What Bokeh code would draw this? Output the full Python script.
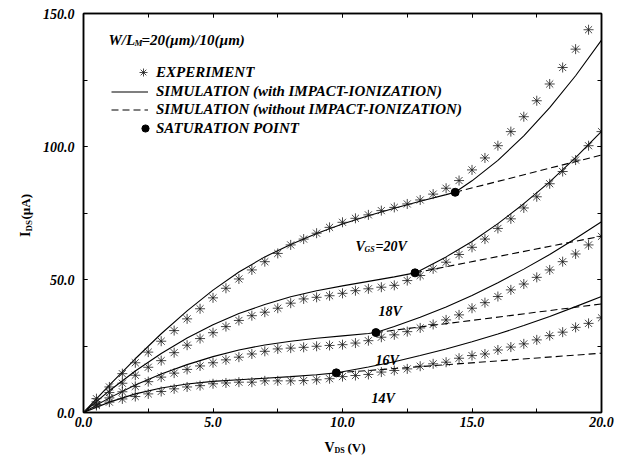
import math
from bokeh.plotting import figure
from bokeh.layouts import column, row
from bokeh.models import (Range1d, LinearAxis, SingleIntervalTicker, NumeralTickFormatter,
                          CustomJSTickFormatter, Label, Legend, LegendItem)
from bokeh.core.properties import value
from bokeh.embed import file_html
from bokeh.resources import INLINE

# ---------------- data ----------------
vds_exp = [0.0, 0.5, 1.0, 1.5, 2.0, 2.5, 3.0, 3.5, 4.0, 4.5,
           5.0, 5.5, 6.0, 6.5, 7.0, 7.5, 8.0, 8.5, 9.0, 9.5,
           10.0, 10.5, 11.0, 11.5, 12.0, 12.5, 13.0, 13.5, 14.0, 14.5,
           15.0, 15.5, 16.0, 16.5, 17.0, 17.5, 18.0, 18.5, 19.0, 19.5, 20.0]

# measured I_DS (uA); VGS=20V has no point at 20 V (off scale)
ids_exp_20 = [0.0, 5.2, 9.6, 14.6, 18.7, 22.7, 26.8, 30.8, 35.2, 39.0,
              43.1, 46.7, 50.2, 53.6, 56.7, 59.8, 63.0, 65.2, 67.4, 69.6,
              71.5, 73.0, 74.3, 75.9, 77.1, 78.4, 79.9, 82.1, 84.3, 87.2,
              91.2, 95.7, 100.3, 105.6, 111.2, 117.2, 123.5, 129.7, 136.6, 143.9]
ids_exp_18 = [0.0, 4.0, 7.5, 11.0, 14.0, 17.0, 19.5, 22.5, 25.3, 27.8,
              30.0, 32.3, 34.6, 36.4, 37.7, 39.2, 41.1, 42.7, 43.3, 43.9,
              44.8, 45.8, 46.5, 47.1, 47.8, 49.6, 51.5, 54.0, 56.5, 59.4,
              62.1, 65.2, 69.2, 72.8, 76.9, 81.1, 86.0, 90.6, 94.9, 100.3, 105.6]
ids_exp_16 = [0.0, 3.0, 5.5, 7.8, 9.8, 11.6, 13.3, 14.8, 16.2, 17.5,
              18.7, 19.8, 20.8, 22.0, 23.0, 23.9, 24.2, 24.5, 24.9, 25.2,
              25.5, 26.1, 27.0, 28.3, 29.2, 30.4, 31.8, 33.1, 34.8, 36.7,
              39.2, 41.3, 43.6, 46.1, 48.3, 50.8, 53.6, 56.7, 59.6, 63.0, 66.2]
ids_exp_14 = [0.0, 2.6, 3.9, 5.1, 6.0, 7.0, 7.9, 8.9, 9.6, 10.1,
              10.8, 11.1, 11.4, 11.4, 11.9, 11.9, 11.9, 12.0, 12.3, 12.7,
              13.5, 13.9, 14.3, 15.2, 15.8, 16.4, 17.4, 18.3, 18.9, 20.4,
              21.4, 22.0, 23.5, 24.6, 25.8, 27.3, 28.9, 30.2, 32.0, 33.5, 35.6]

# simulation with impact ionization (solid)
vds_sim_20 = [0, 1, 2, 3, 4, 5, 6, 7, 8, 9, 10, 11, 12, 13, 14, 14.35, 15, 16, 17, 18, 19, 20]
ids_sim_20 = [0, 10.3, 20.2, 29.6, 38.2, 46.0, 52.8, 58.5, 63.2, 67.3, 70.9, 74.0, 76.8, 79.4,
              81.9, 82.8, 87.1, 94.8, 104.0, 114.6, 126.6, 140.0]
vds_sim_18 = [0, 1, 2, 3, 4, 5, 6, 7, 8, 9, 10, 11, 12, 12.8, 13, 14, 15, 16, 17, 18, 19, 20]
ids_sim_18 = [0, 8.2, 15.6, 22.2, 28.0, 33.0, 37.2, 40.6, 43.5, 45.8, 47.6, 49.3, 51.0,
              52.5, 53.4, 58.5, 64.3, 71.0, 78.5, 86.7, 95.8, 105.7]
vds_sim_16 = [0, 1, 2, 3, 4, 5, 6, 7, 8, 9, 10, 11, 11.29, 12, 13, 14, 15, 16, 17, 18, 19, 20]
ids_sim_16 = [0, 5.5, 10.3, 14.5, 18.0, 21.0, 23.5, 25.4, 26.8, 27.9, 28.8, 29.7,
              30.05, 32.3, 35.8, 39.7, 44.0, 48.8, 53.9, 59.4, 65.4, 71.7]
vds_sim_14 = [0, 1, 2, 3, 4, 5, 6, 7, 8, 9, 9.76, 10, 11, 12, 13, 14, 15, 16, 17, 18, 19, 20]
ids_sim_14 = [0, 3.9, 7.0, 9.2, 10.7, 11.7, 12.3, 12.9, 13.5, 14.2,
              14.9, 15.3, 17.1, 19.1, 21.4, 23.9, 26.6, 29.5, 32.7, 36.1, 39.8, 43.6]

# simulation without impact ionization (dashed), from saturation point to 20 V
vds_noii_20 = [14.35, 20.0]
ids_noii_20 = [82.8, 96.8]
vds_noii_18 = [12.8, 20.0]
ids_noii_18 = [52.5, 66.3]
vds_noii_16 = [11.29, 20.0]
ids_noii_16 = [30.05, 40.8]
vds_noii_14 = [9.76, 20.0]
ids_noii_14 = [14.9, 22.3]

# saturation points
sat_vds = [14.35, 12.8, 11.29, 9.76]
sat_ids = [82.8, 52.5, 30.05, 14.9]

x_ticks_interval = 5
y_ticks_interval = 50

# ---------------- layout geometry (pixels) ----------------
FONT = "Liberation Serif"
YT_W = 38            # width of strip holding the y-axis title
XT_H = 23            # height of strip holding the x-axis title
W, H = 621, 455
MW, MH = W - YT_W, H - XT_H     # main figure size
ML, MR, MT, MB = 83 - YT_W, 20, 13, MH - 412
FX0 = YT_W + ML                 # frame left in page pixels (83)
FY1 = MH - MB                   # frame bottom in page pixels (412)
PX_PER_X = (MW - ML - MR) / 20.0
PX_PER_Y = (MH - MT - MB) / 150.0

p = figure(width=MW, height=MH, x_range=Range1d(0, 20), y_range=Range1d(0, 150),
           output_backend="svg", toolbar_location=None,
           min_border_left=ML, min_border_right=MR, min_border_top=MT, min_border_bottom=MB,
           background_fill_color="white", border_fill_color="white")
p.xgrid.visible = False
p.ygrid.visible = False
p.outline_line_color = "black"
p.outline_line_width = 1.5

def style_axis(ax, labels=True):
    ax.axis_line_color = "black"
    ax.axis_line_width = 1.5
    ax.major_tick_in = 4
    ax.major_tick_out = 0
    ax.minor_tick_in = 4
    ax.minor_tick_out = 0
    ax.major_tick_line_color = "black"
    ax.minor_tick_line_color = "black"
    ax.major_label_text_font = FONT
    ax.major_label_text_font_style = "bold italic"
    ax.major_label_text_font_size = "14px"
    ax.major_label_text_color = "black"
    if not labels:
        ax.formatter = CustomJSTickFormatter(code="return ''")

p.xaxis[0].ticker = SingleIntervalTicker(interval=x_ticks_interval, num_minor_ticks=2)
p.yaxis[0].ticker = SingleIntervalTicker(interval=y_ticks_interval, num_minor_ticks=2)
p.xaxis[0].formatter = NumeralTickFormatter(format="0.0")
p.yaxis[0].formatter = NumeralTickFormatter(format="0.0")
style_axis(p.xaxis[0])
style_axis(p.yaxis[0])
p.xaxis[0].major_label_standoff = 4
p.yaxis[0].major_label_standoff = 9

ax_top = LinearAxis(ticker=SingleIntervalTicker(interval=x_ticks_interval, num_minor_ticks=2))
ax_right = LinearAxis(ticker=SingleIntervalTicker(interval=y_ticks_interval, num_minor_ticks=2))
style_axis(ax_top, labels=False)
style_axis(ax_right, labels=False)
ax_top.major_label_standoff = 0
ax_right.major_label_standoff = 0
p.add_layout(ax_top, "above")
p.add_layout(ax_right, "right")

DASH = "7 4"
solid_r = None
dash_r = None
for vs, is_ in [(vds_sim_20, ids_sim_20), (vds_sim_18, ids_sim_18),
                (vds_sim_16, ids_sim_16), (vds_sim_14, ids_sim_14)]:
    r = p.line(vs, is_, line_color="black", line_width=1.1)
    solid_r = solid_r or r
for vs, is_ in [(vds_noii_20, ids_noii_20), (vds_noii_18, ids_noii_18),
                (vds_noii_16, ids_noii_16), (vds_noii_14, ids_noii_14)]:
    r = p.line(vs, is_, line_color="black", line_width=1.1, line_dash=DASH)
    dash_r = dash_r or r

exp_r = None
for ys in [ids_exp_20, ids_exp_18, ids_exp_16, ids_exp_14]:
    r = p.scatter(vds_exp[:len(ys)], ys, marker="asterisk", size=10,
                  line_color="#1a1a1a", line_width=0.8)
    exp_r = exp_r or r

sat_r = p.scatter(sat_vds, sat_ids, marker="circle", size=8,
                  fill_color="black", line_color="black")

# ---------------- legend (one per row to mimic layout) ----------------
def add_legend(label, rend, vx, vy, gw, gh, standoff):
    lg = Legend(items=[LegendItem(label=label, renderers=[rend])],
                location=(vx, vy), glyph_width=gw, glyph_height=gh, label_height=gh,
                label_standoff=standoff, padding=0, margin=0, spacing=0,
                border_line_color=None, background_fill_alpha=0,
                label_text_font=FONT, label_text_font_style="bold italic",
                label_text_font_size="15px", label_text_color="black")
    p.add_layout(lg)

add_legend("EXPERIMENT", exp_r, 50, 330, 20, 20, 3)
add_legend("SIMULATION (with IMPACT-IONIZATION)", solid_r, 28, 311, 37, 19, 8)
add_legend("SIMULATION (without IMPACT-IONIZATION)", dash_r, 28, 293, 37, 19, 8)
add_legend("SATURATION POINT", sat_r, 53, 275, 18, 18, 2)

# ---------------- in-frame text labels (page pixels converted to data) ----------------
def lab(sx, sy, text, size, style="bold italic"):
    x = (sx - FX0) / PX_PER_X
    y = (FY1 - sy) / PX_PER_Y
    p.add_layout(Label(x=x, y=y, text=text, text_font=FONT, text_font_style=style,
                       text_font_size=f"{size}px", text_color="black",
                       text_baseline="alphabetic", text_align="left"))

lab(108, 39, "W/L", 15)
lab(134, 42, "M", 9)
lab(141, 39, "=20(\u00b5m)/10(\u00b5m)", 15)

lab(355, 246, "V", 14)
lab(364, 249, "GS", 8)
lab(375, 246, "=20V", 14)
lab(378, 311, "18V", 14)
lab(375, 360, "16V", 14)
lab(371, 398, "14V", 14)

# ---------------- axis-title strips ----------------
def strip(w, h):
    f = figure(width=w, height=h, x_range=Range1d(0, w), y_range=Range1d(0, h),
               output_backend="svg", toolbar_location=None,
               x_axis_type=None, y_axis_type=None, min_border=0,
               background_fill_color="white", border_fill_color="white")
    f.outline_line_color = None
    f.xgrid.visible = False
    f.ygrid.visible = False
    return f

def stext(f, sx, sy, txt, size, style="bold", angle=0.0):
    f.text(x=[sx], y=[f.height - sy], text=[txt], text_font=value(FONT),
           text_font_style=style, text_font_size=f"{size}px", text_color="black",
           angle=angle, text_baseline="alphabetic", text_align="left")

# y title strip (page x 0..YT_W, y 0..MH)
yt = strip(YT_W, MH)
rot = math.pi / 2
stext(yt, 25, 242, "I", 14, angle=rot)
stext(yt, 28, 236, "DS", 9, angle=rot)
stext(yt, 25, 223, "(\u00b5A)", 13, angle=rot)

# x title strip (page y MH..455) -> local y = page y - MH
xt = strip(W, XT_H)
stext(xt, 324, 447 - MH, "V", 14)
stext(xt, 334, 450 - MH, "DS", 8)
stext(xt, 347, 447 - MH, "(V)", 13)

layout = column(row(yt, p, spacing=0), xt, spacing=0)
open("out.html", "w").write(file_html(layout, INLINE))
